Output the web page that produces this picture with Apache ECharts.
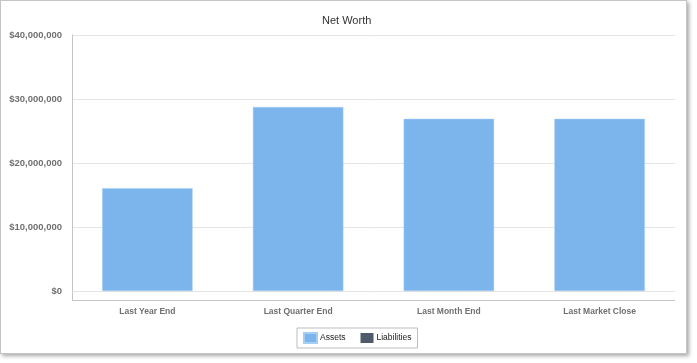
<!DOCTYPE html>
<html>
<head>
<meta charset="utf-8">
<script src="https://cdn.jsdelivr.net/npm/echarts@6/dist/echarts.min.js"></script>
<style>
html,body{margin:0;padding:0;background:#fff;}
#frame{position:absolute;left:0;top:0;width:685px;height:352px;border:1px solid #c4c4c4;box-shadow:2px 2px 4px rgba(0,0,0,0.35);background:#fff;}
#chart{position:absolute;left:0;top:0;width:697px;height:363px;}
</style>
</head>
<body>
<div id="frame"></div>
<div id="chart"></div>
<script>
var categories = ['Last Year End', 'Last Quarter End', 'Last Month End', 'Last Market Close'];
var assets = [16050000, 28750000, 26900000, 26900000];
var liabilities = [0, 0, 0, 0];
var yTicks = [0, 10000000, 20000000, 30000000, 40000000];

var chart = echarts.init(document.getElementById('chart'));
chart.setOption({
  animation: false,
  title: {
    text: 'Net Worth', left: 317, top: 10,
    textStyle: {fontFamily: 'Liberation Sans', fontSize: 11, fontWeight: 'normal', color: '#333'}
  },
  legend: {
    data: ['Assets', 'Liabilities'],
    left: 297, top: 328,
    borderColor: '#bdbdbd', borderWidth: 1, borderRadius: 0,
    padding: [4, 6, 4, 6],
    itemWidth: 13, itemHeight: 10, itemGap: 15,
    icon: 'rect',
    textStyle: {fontFamily: 'Liberation Sans', fontSize: 8.5, color: '#222', padding: [0, 0, 0, -2]}
  },
  grid: {left: 72, right: 22, top: 35, bottom: 72},
  xAxis: {
    type: 'category', data: categories,
    axisLine: {show: false},
    axisTick: {show: false},
    axisLabel: {margin: 16, fontFamily: 'Liberation Sans', fontSize: 8.5, fontWeight: 'bold', color: '#707070'}
  },
  yAxis: {
    type: 'value', min: yTicks[0], max: yTicks[yTicks.length - 1], interval: yTicks[1] - yTicks[0],
    axisLine: {show: true, lineStyle: {color: '#c4c4c4', width: 1}},
    axisTick: {show: false},
    splitLine: {lineStyle: {color: '#e4e4e4', width: 1}},
    axisLabel: {
      margin: 10, fontFamily: 'Liberation Sans', fontSize: 9.5, fontWeight: 'bold', color: '#707070',
      formatter: function (v) { return '$' + v.toLocaleString('en-US'); }
    }
  },
  graphic: [
    {type: 'line', shape: {x1: 72.5, y1: 291, x2: 72.5, y2: 300}, style: {stroke: '#c4c4c4', lineWidth: 1}},
    {type: 'line', shape: {x1: 72, y1: 300.5, x2: 675, y2: 300.5}, style: {stroke: '#c4c4c4', lineWidth: 1}}
  ],
  series: [
    {name: 'Assets', type: 'bar', stack: 'nw', data: assets, barWidth: '60%',
     itemStyle: {color: '#7cb5ec', borderColor: '#a6cdf2', borderWidth: 0.5}},
    {name: 'Liabilities', type: 'bar', stack: 'nw', data: liabilities, barWidth: '60%',
     itemStyle: {color: '#4f5b6b'}}
  ]
});
</script>
</body>
</html>
